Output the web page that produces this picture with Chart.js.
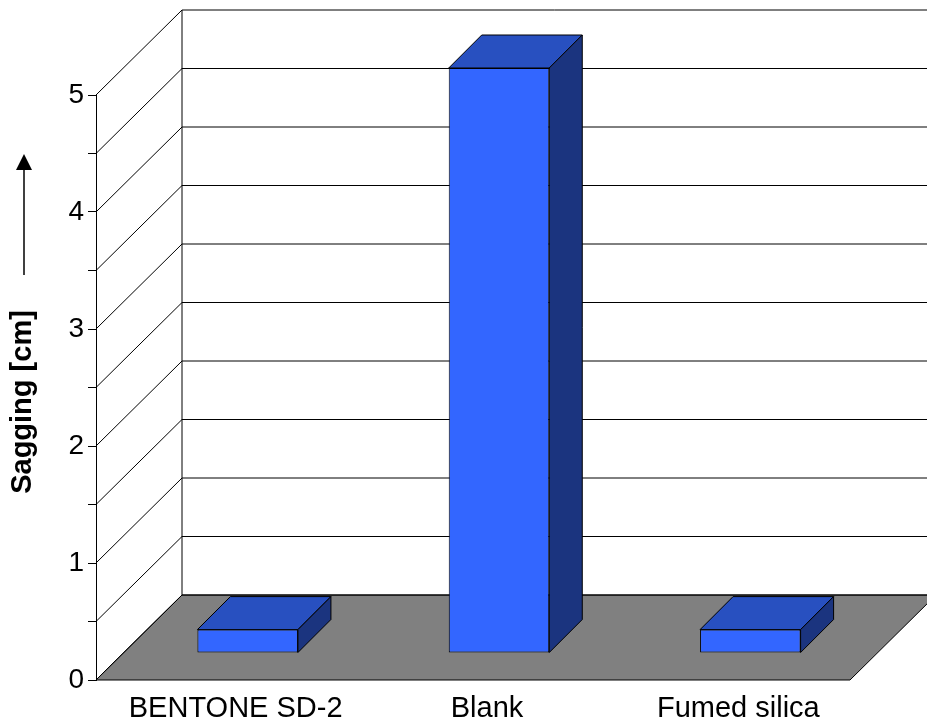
<!DOCTYPE html>
<html>
<head>
<meta charset="utf-8">
<script src="https://cdn.jsdelivr.net/npm/chart.js@4/dist/chart.umd.min.js"></script>
<style>
  html, body { margin: 0; padding: 0; background: #fff; }
</style>
</head>
<body>
<canvas id="myChart" width="927" height="724"></canvas>
<script>
const categories = ["BENTONE SD-2", "Blank", "Fumed silica"];
const sagging = [0.2, 5.0, 0.2];
const yMax = 5;
const yStep = 0.5;
const axisTitle = "Sagging [cm]";

const FONT = "'Liberation Sans', Arial, sans-serif";
// depth of the 3d box and of the bars
const DEPTH_X = 86, DEPTH_Y = 85;
const BAR_DX = 26, BAR_DY = 27;
const BAR_DEPTH = 33;

const threeD = {
  id: 'threeD',
  beforeDatasetsDraw(chart) {
    const ctx = chart.ctx, y = chart.scales.y, a = chart.chartArea;
    const y0 = y.getPixelForValue(0);
    ctx.save();
    ctx.lineWidth = 1;
    ctx.strokeStyle = '#000';

    // floor
    ctx.fillStyle = '#808080';
    ctx.beginPath();
    ctx.moveTo(a.left, y0);
    ctx.lineTo(a.right, y0);
    ctx.lineTo(a.right + DEPTH_X, y0 - DEPTH_Y);
    ctx.lineTo(a.left + DEPTH_X, y0 - DEPTH_Y);
    ctx.closePath();
    ctx.fill();
    ctx.stroke();

    // side wall + back wall grid
    for (let v = 0; v <= yMax; v += yStep) {
      const py = y.getPixelForValue(v);
      ctx.beginPath();
      ctx.moveTo(a.left, py);
      ctx.lineTo(a.left + DEPTH_X, py - DEPTH_Y);
      ctx.lineTo(chart.width, py - DEPTH_Y);
      ctx.stroke();
    }
    ctx.beginPath();
    ctx.moveTo(a.left + DEPTH_X, y.getPixelForValue(yMax) - DEPTH_Y);
    ctx.lineTo(a.left + DEPTH_X, y0 - DEPTH_Y);
    ctx.stroke();
    ctx.restore();

    // bars sit back from the front plane
    ctx.save();
    ctx.translate(BAR_DX, -BAR_DY);
  },
  afterDatasetsDraw(chart) {
    const ctx = chart.ctx;
    const meta = chart.getDatasetMeta(0);
    ctx.lineWidth = 1;
    ctx.strokeStyle = '#000';
    meta.data.forEach(bar => {
      const p = bar.getProps(['x', 'y', 'base', 'width'], true);
      const x1 = p.x - p.width / 2, x2 = p.x + p.width / 2;
      // top
      ctx.fillStyle = '#2850c0';
      ctx.beginPath();
      ctx.moveTo(x1, p.y);
      ctx.lineTo(x1 + BAR_DEPTH, p.y - BAR_DEPTH);
      ctx.lineTo(x2 + BAR_DEPTH, p.y - BAR_DEPTH);
      ctx.lineTo(x2, p.y);
      ctx.closePath();
      ctx.fill();
      ctx.stroke();
      // right side
      ctx.fillStyle = '#1b347f';
      ctx.beginPath();
      ctx.moveTo(x2, p.y);
      ctx.lineTo(x2 + BAR_DEPTH, p.y - BAR_DEPTH);
      ctx.lineTo(x2 + BAR_DEPTH, p.base - BAR_DEPTH);
      ctx.lineTo(x2, p.base);
      ctx.closePath();
      ctx.fill();
      ctx.stroke();
    });
    ctx.restore();
  },
  afterDraw(chart) {
    const ctx = chart.ctx;
    ctx.save();
    // axis title
    ctx.translate(23, 402);
    ctx.rotate(-Math.PI / 2);
    ctx.fillStyle = '#000';
    ctx.font = 'bold 29px ' + FONT;
    ctx.textAlign = 'center';
    ctx.textBaseline = 'middle';
    ctx.fillText(axisTitle, 0, 0);
    ctx.restore();

    // arrow above the title
    ctx.save();
    ctx.strokeStyle = '#000';
    ctx.fillStyle = '#000';
    ctx.lineWidth = 1.5;
    ctx.beginPath();
    ctx.moveTo(24, 275);
    ctx.lineTo(24, 168);
    ctx.stroke();
    ctx.beginPath();
    ctx.moveTo(24, 154);
    ctx.lineTo(32, 170);
    ctx.lineTo(16, 170);
    ctx.closePath();
    ctx.fill();
    ctx.restore();
  }
};

new Chart(document.getElementById('myChart'), {
  type: 'bar',
  data: {
    labels: categories,
    datasets: [{
      data: sagging,
      backgroundColor: '#3366ff',
      borderColor: '#000',
      borderWidth: 1,
      borderSkipped: false,
      categoryPercentage: 1,
      barPercentage: 0.4,
      clip: false
    }]
  },
  options: {
    responsive: false,
    animation: false,
    layout: { padding: { top: 95, right: 77, left: 0, bottom: 0 } },
    plugins: { legend: { display: false }, tooltip: { enabled: false } },
    scales: {
      x: {
        grid: { display: false, drawTicks: false },
        border: { display: false },
        ticks: {
          color: '#000',
          font: { family: FONT, size: 29 },
          labelOffset: 14,
          padding: 12,
          maxRotation: 0
        },
        afterFit: s => { s.height = 44; }
      },
      y: {
        min: 0,
        max: yMax,
        grid: { drawOnChartArea: false, color: '#000', tickLength: 8 },
        border: { display: true, color: '#000', width: 1 },
        ticks: {
          stepSize: yStep,
          color: '#000',
          padding: 4,
          font: { family: FONT, size: 28 },
          callback: v => Number.isInteger(v) ? v : ''
        },
        afterFit: s => { s.width = 96; }
      }
    }
  },
  plugins: [threeD]
});
</script>
</body>
</html>
